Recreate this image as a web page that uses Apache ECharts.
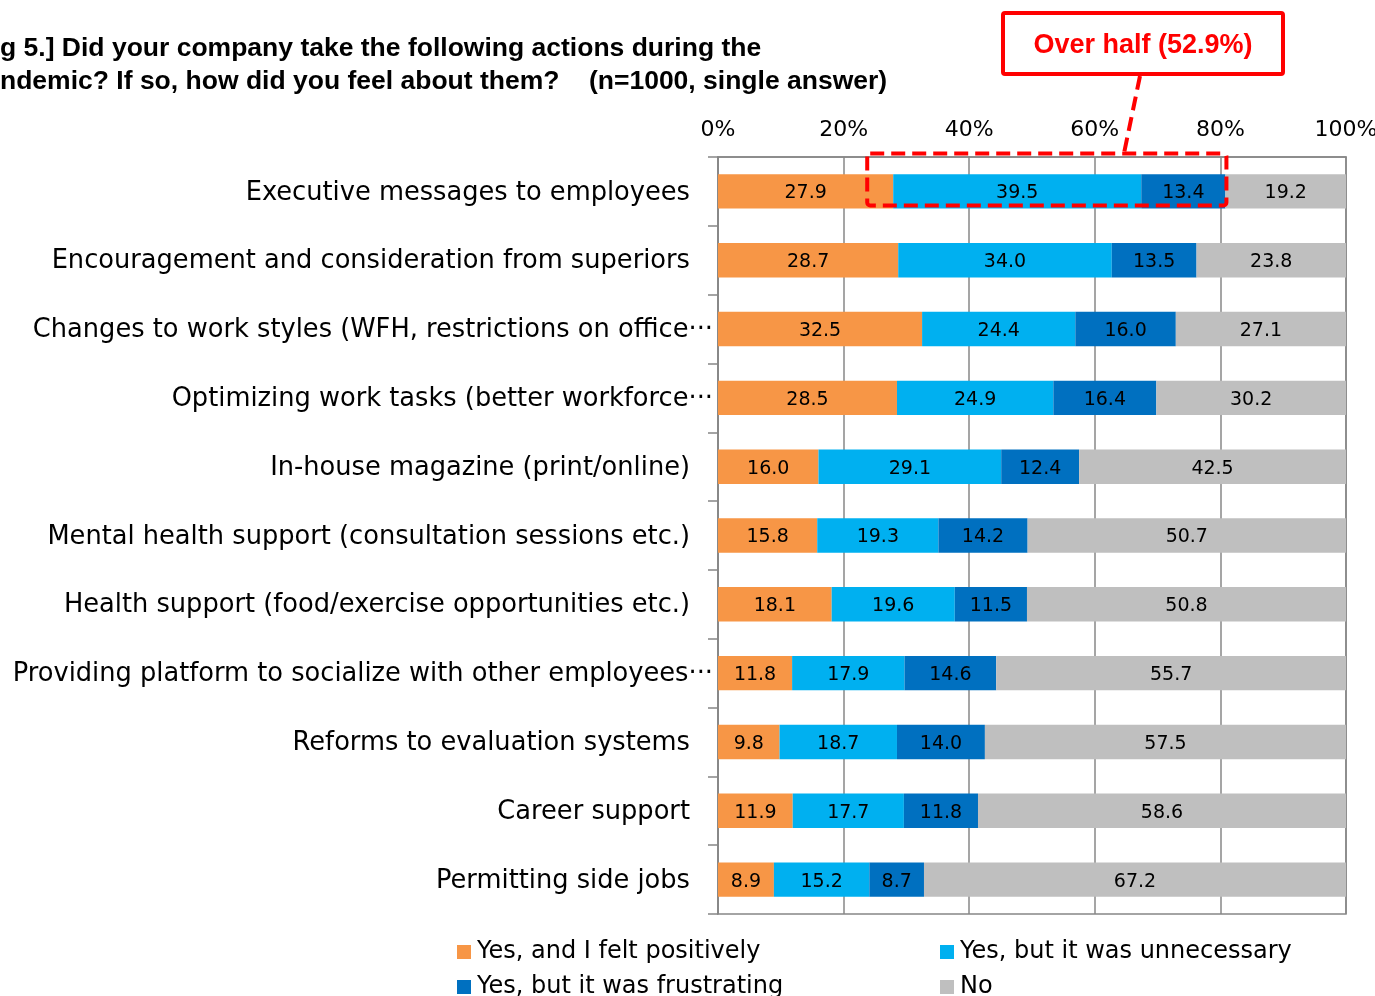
<!DOCTYPE html>
<html>
<head>
<meta charset="utf-8">
<script src="https://cdn.jsdelivr.net/npm/echarts@6/dist/echarts.min.js"></script>
<style>
  html, body { margin: 0; padding: 0; background: #fff; overflow: hidden; }
  #chart { width: 1375px; height: 996px; }
</style>
</head>
<body>
<div id="chart"></div>
<script>
// Survey actions taken during the pandemic (n=1000), share of respondents in %
const categories = [
  'Executive messages to employees',
  'Encouragement and consideration from superiors',
  'Changes to work styles (WFH, restrictions on office···',
  'Optimizing work tasks (better workforce···',
  'In-house magazine (print/online)',
  'Mental health support (consultation sessions etc.)',
  'Health support (food/exercise opportunities etc.)',
  'Providing platform to socialize with other employees···',
  'Reforms to evaluation systems',
  'Career support',
  'Permitting side jobs'
];
const positive     = [27.9, 28.7, 32.5, 28.5, 16.0, 15.8, 18.1, 11.8, 9.8, 11.9, 8.9];
const unnecessary  = [39.5, 34.0, 24.4, 24.9, 29.1, 19.3, 19.6, 17.9, 18.7, 17.7, 15.2];
const frustrating  = [13.4, 13.5, 16.0, 16.4, 12.4, 14.2, 11.5, 14.6, 14.0, 11.8, 8.7];
const notTaken     = [19.2, 23.8, 27.1, 30.2, 42.5, 50.7, 50.8, 55.7, 57.5, 58.6, 67.2];
const seriesNames  = [
  'Yes, and I felt positively',
  'Yes, but it was unnecessary',
  'Yes, but it was frustrating',
  'No'
];
const xTicks = [0, 20, 40, 60, 80, 100];
const titleLines = [
  'g 5.] Did your company take the following actions during the',
  'ndemic? If so, how did you feel about them?    (n=1000, single answer)'
];
const calloutText = 'Over half (52.9%)';

const FONT = '"DejaVu Sans", Verdana, sans-serif';
const AXIS_GREY = '#878787';
const colors = ['#F79646', '#00B0F0', '#0070C0', '#BFBFBF'];
const values = [positive, unnecessary, frustrating, notTaken];
const ELLIPSIS = '···';
const CAT_SIZE = 25.7;

const chart = echarts.init(document.getElementById('chart'), null, { renderer: 'canvas' });

const series = seriesNames.map((name, i) => ({
  name: name,
  type: 'bar',
  stack: 'share',
  barWidth: '50%',
  data: values[i],
  itemStyle: { color: colors[i] },
  label: {
    show: true,
    position: 'inside',
    offset: [0, 2],
    color: '#000',
    fontFamily: FONT,
    fontSize: 19,
    formatter: p => p.value.toFixed(1)
  },
  emphasis: { disabled: true },
  animation: false
}));

// Legend laid out as a 2x2 block: one legend component per cell
const legendCells = [
  { name: seriesNames[0], left: 457, top: 940 },
  { name: seriesNames[1], left: 940, top: 940 },
  { name: seriesNames[2], left: 457, top: 975 },
  { name: seriesNames[3], left: 940, top: 975 }
];
const legends = legendCells.map(c => ({
  left: c.left,
  top: c.top,
  padding: 0,
  orient: 'horizontal',
  icon: 'rect',
  itemWidth: 14,
  itemHeight: 14,
  selectedMode: false,
  data: [c.name],
  textStyle: { fontFamily: FONT, fontSize: 24, color: '#000', padding: [0, 0, 0, 1] }
}));

chart.setOption({
  animation: false,
  color: colors,
  grid: {
    left: 718, right: 29, top: 157, bottom: 82,
    outerBoundsMode: 'none',
    containLabel: false,
    show: true, borderColor: AXIS_GREY, borderWidth: 1.5, backgroundColor: 'transparent'
  },
  legend: legends,
  xAxis: {
    type: 'value',
    position: 'top',
    min: xTicks[0],
    max: xTicks[xTicks.length - 1],
    interval: xTicks[1] - xTicks[0],
    axisLine: { show: true, lineStyle: { color: AXIS_GREY, width: 1.5 } },
    axisTick: { show: false },
    splitLine: { show: true, lineStyle: { color: AXIS_GREY, width: 1.5 } },
    axisLabel: {
      margin: 16,
      fontFamily: FONT,
      fontSize: 22,
      color: '#000',
      hideOverlap: false,
      formatter: '{value}%'
    }
  },
  yAxis: {
    type: 'category',
    inverse: true,
    data: categories,
    axisLine: { show: true, lineStyle: { color: AXIS_GREY, width: 1.5 } },
    axisTick: { show: true, length: 10, lineStyle: { color: AXIS_GREY, width: 1.5 } },
    axisLabel: {
      // truncated names run their dots up to the axis; full names stop short of it
      margin: 2,
      color: '#000',
      fontFamily: FONT,
      fontSize: CAT_SIZE,
      interval: 0,
      formatter: v => v.endsWith(ELLIPSIS) ? '{cut|' + v + '}' : '{full|' + v + '}',
      rich: {
        full: { fontFamily: FONT, fontSize: CAT_SIZE, color: '#000', padding: [3, 26, 0, 0] },
        cut: { fontFamily: FONT, fontSize: CAT_SIZE, color: '#000', padding: [3, 3, 0, 0] }
      }
    }
  },
  series: series
});

// Highlight box around the "Yes" answers that were unnecessary or frustrating on the first row
const row0 = categories[0];
const startVal = positive[0];
const endVal = positive[0] + unnecessary[0] + frustrating[0];
const pStart = chart.convertToPixel({ gridIndex: 0 }, [startVal, row0]);
const pEnd = chart.convertToPixel({ gridIndex: 0 }, [endVal, row0]);
const boxLeft = pStart[0] - 26;
const boxRight = pEnd[0] + 1;
const boxTop = pStart[1] - 38;
const boxBottom = pStart[1] + 14;

const RED = '#FF0000';
const TITLE_FONT = 'bold 26.5px "Liberation Sans", Arial, sans-serif';
chart.setOption({
  graphic: [
    {
      type: 'text', left: 0, top: 35,
      style: { text: titleLines[0], font: TITLE_FONT, fill: '#000' }
    },
    {
      type: 'text', left: 0, top: 68,
      style: { text: titleLines[1], font: TITLE_FONT, fill: '#000' }
    },
    {
      type: 'rect', z: 100,
      shape: { x: boxLeft, y: boxTop, width: boxRight - boxLeft, height: boxBottom - boxTop, r: 3 },
      style: { fill: 'none', stroke: RED, lineWidth: 4, lineDash: [14, 7] }
    },
    {
      type: 'line', z: 100,
      shape: { x1: 1140, y1: 76, x2: 1124, y2: boxTop },
      style: { stroke: RED, lineWidth: 4, lineDash: [14, 7] }
    },
    {
      type: 'rect', z: 100,
      shape: { x: 1003, y: 13, width: 280, height: 61, r: 2 },
      style: { fill: '#fff', stroke: RED, lineWidth: 4 }
    },
    {
      type: 'text', z: 101, x: 1143, y: 46,
      style: {
        text: calloutText, font: 'bold 27px "Liberation Sans", Arial, sans-serif',
        fill: RED, align: 'center', verticalAlign: 'middle'
      }
    }
  ]
});
</script>
</body>
</html>
